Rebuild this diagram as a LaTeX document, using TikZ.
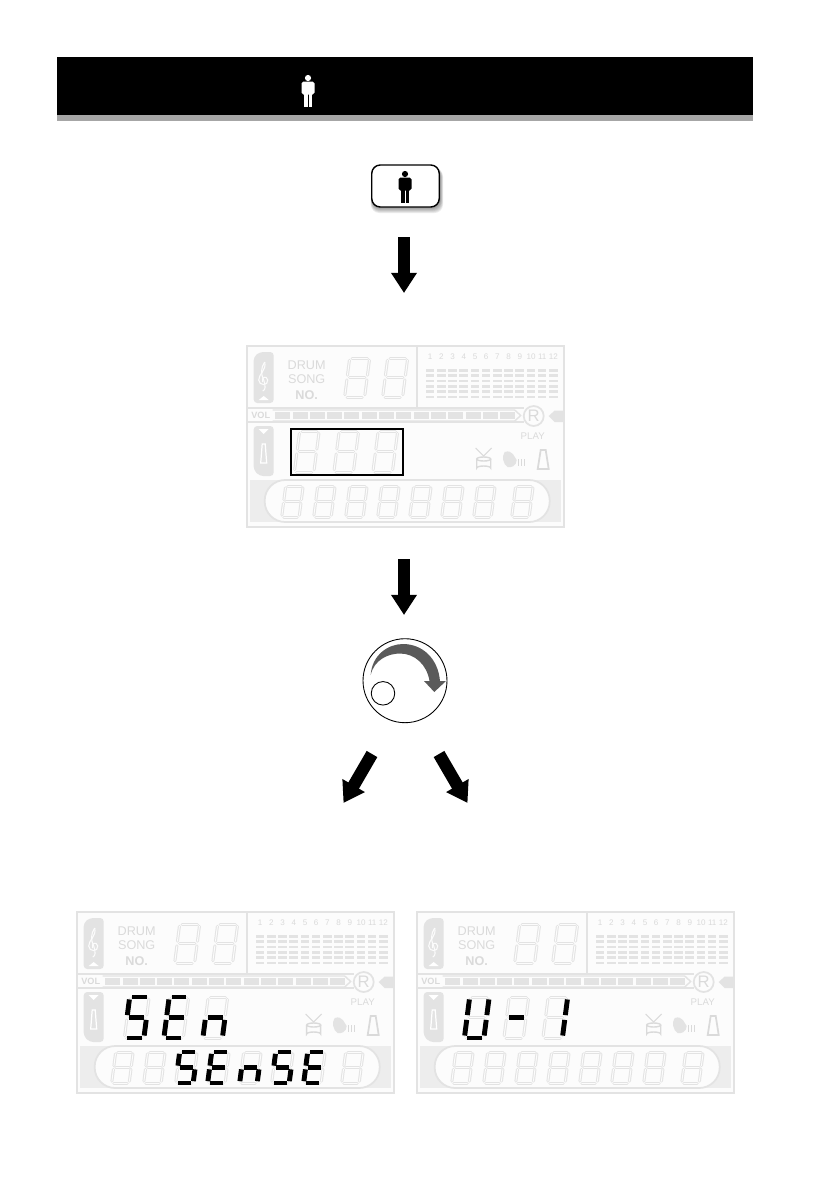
\documentclass[tikz,border=0pt]{standalone}
\usepackage{fontspec}
\setmainfont{Liberation Sans}
\usetikzlibrary{arrows.meta}

\definecolor{lcdgray}{HTML}{E3E3E3}
\definecolor{lcdpale}{HTML}{EDEDED}
\definecolor{lcdback}{HTML}{FCFCFC}
\definecolor{lcdtext}{HTML}{DADADA}
\definecolor{stripgray}{HTML}{A6A6A6}
\definecolor{knobgray}{HTML}{5A5A5A}

\tikzset{
  lcdseg/.style={draw=lcdgray,line width=1.7pt,line cap=round,
    postaction={draw=lcdback,line width=.55pt}},
  blackseg/.style={draw=black,line width=2.8pt},
  lcdline/.style={draw=lcdgray,line width=1.3pt},
  lcdlabel/.style={text=lcdtext,inner sep=0pt,font=\fontsize{7.2}{8}\selectfont},
  tinylabel/.style={lcdlabel,font=\fontsize{4.6}{5}\selectfont},
  blockarrow/.style={draw=black,line width=7pt,-{Triangle[length=11.5pt,width=14pt]}},
  keybtn/.style={draw=black,fill=white,line width=.8pt,rounded corners=1.7mm,
    minimum width=13.5mm,minimum height=8.4mm,inner sep=0pt},
  pics/person/.style={code={
    \fill[#1] (0,-13) circle (3.1);
    \fill[#1,rounded corners=1.1pt] (-6.5,3.5) -- (-6.5,-9.5) -- (6.5,-9.5) -- (6.5,3.5) -- cycle;
    \fill[#1] (-4.2,0) rectangle (-.5,16);
    \fill[#1] (.5,0) rectangle (4.2,16);
  }}
}

% segments of one digit, unit square
\def\sega{(.12,0) -- (.88,0)}
\def\segb{(1,.06) -- (1,.44)}
\def\segc{(1,.56) -- (1,.94)}
\def\segd{(.12,1) -- (.88,1)}
\def\sege{(0,.56) -- (0,.94)}
\def\segf{(0,.06) -- (0,.44)}
\def\segg{(.12,.5) -- (.88,.5)}

% x, y, width, height, segments, style
\newcommand{\segdigit}[6]{
  \begin{scope}[shift={(#1,#2)},xslant=.13,xscale=#3,yscale=#4]
    \foreach \s in {#5} {\draw[#6] \csname seg\s\endcsname;}
  \end{scope}
}

% name, x, y
\newcommand{\lcdpanel}[3]{
  \begin{scope}[shift={(#2,#3)}]
    \draw[lcdline,fill=lcdback] (0,0) rectangle (317,181);
    \draw[lcdline] (170,0) -- (170,62);
    \draw[lcdline] (0,62) -- (277,62);
    \draw[lcdline] (0,76) -- (277,76);
    % clef and metronome strips
    \fill[lcdgray,rounded corners=2pt] (7,57) -- (7,11) -- (13,6) -- (27,6) -- (27,57) -- cycle;
    \fill[lcdgray,rounded corners=2pt] (7,80) -- (27,80) -- (27,130) -- (13,130) -- (7,124) -- cycle;
    \fill[white] (12,54) -- (22,54) -- (17,50) -- cycle;
    \fill[white] (12,83) -- (22,83) -- (17,88) -- cycle;
    \draw[white,line width=.7pt] (14,117) -- (15.5,98) -- (18.5,98) -- (20,117) -- cycle;
    \draw[lcdback,line width=.6pt] (18,16) .. controls (14,22) and (14,28) .. (17,34) .. controls (19,40) and (19,44) .. (16,45);
    \draw[lcdback,line width=.6pt] (18,16) .. controls (20,24) and (12,28) .. (12,34) .. controls (12,40) and (22,40) .. (21,34) .. controls (20,29) and (14,31) .. (16,36);
    % top text
    \node[lcdlabel] (#1-drum) at (60,19) {DRUM};
    \node[lcdlabel] (#1-song) at (60,33) {SONG};
    \node[lcdlabel,font=\fontsize{7.2}{8}\bfseries] (#1-no) at (60,49) {NO.};
    \foreach \dx in {103,141} {\segdigit{\dx}{12}{20}{39}{a,b,c,d,e,f,g}{lcdseg}}
    % pattern columns
    \foreach \col [count=\n from 0] in {1,...,12} {
      \node[tinylabel] (#1-num\col) at (183.5+11.2*\n,11) {\col};
      \foreach \row in {0,...,5} {\fill[lcdgray] (179+11.2*\n,23+5.3*\row) rectangle ++(8.6,2.8);}
    }
    % volume
    \node[lcdlabel,font=\fontsize{5.2}{6}\bfseries] (#1-vol) at (14,69.5) {VOL};
    \foreach \n in {0,...,13} {\fill[lcdgray] (28.5+17.3*\n,66) rectangle ++(15,7);}
    \draw[lcdline,line width=.8pt] (26,64) -- (268,64) -- (274,69.5) -- (268,75) -- (26,75);
    \node[circle,draw=lcdgray,line width=1pt,minimum size=4mm,inner sep=0pt,text=lcdtext,
      font=\fontsize{9.5}{10}\selectfont] (#1-r) at (287,70) {R};
    \fill[lcdgray] (302,70) -- (308,64.5) -- (317,64.5) -- (317,76) -- (308,76) -- cycle;
    \node[lcdlabel,font=\fontsize{5.5}{6}\selectfont] (#1-play) at (286,90) {PLAY};
    % drum, voice, metronome
    \draw[lcdtext,line width=.6pt] (229,102) -- (237,110) -- (245,102);
    \draw[lcdtext,line width=.8pt] (230,113) -- (230,122) arc (180:360:7 and 2) -- (244,113);
    \draw[lcdtext,line width=.8pt] (237,113) ellipse (7 and 2);
    \fill[lcdgray] (258,106) .. controls (266,103) and (268,112) .. (270,114) .. controls (270,120) and (264,122) .. (261,121) .. controls (256,118) and (255,110) .. cycle;
    \foreach \dx in {272,275,278} {\draw[lcdtext,line width=.5pt] (\dx,113) -- (\dx,120);}
    \draw[lcdtext,line width=1pt] (291,123) -- (294,104) -- (299,104) -- (302,123) -- cycle;
    % middle digits
    \foreach \dx in {53,92.5,131.5} {\segdigit{\dx}{85}{19.5}{41}{a,b,c,d,e,f,g}{lcdseg}}
    % bottom band
    \fill[lcdpale] (3,134) rectangle (314,176);
    \draw[lcdline,line width=1pt,fill=lcdback,rounded corners=4.1mm] (18,134) rectangle (303,176);
    \foreach \dx in {39,71,103,135,167,199,231,269} {\segdigit{\dx}{140}{17.5}{31}{a,b,c,d,e,f,g}{lcdseg}}
  \end{scope}
}

\begin{document}
\begin{tikzpicture}[x=.02cm,y=-.02cm]
  \useasboundingbox (0,0) rectangle (839,1191);

  % header
  \fill[black] (57,57) rectangle (753,115);
  \fill[stripgray] (57,115) rectangle (753,121);
  \pic at (308,91) {person=white};

  % button
  \foreach \d in {0,...,6} {
    \fill[black,opacity=.08,rounded corners=1.7mm] (372-\d*.2,168) rectangle (440+\d*.5,207+\d);
  }
  \node[keybtn] (button) at (405.5,186) {};
  \pic at (405,187) {person=black};

  \coordinate (arrowA start) at (404,237);
  \coordinate (arrowA end) at (404,293);
  \draw[blockarrow] (arrowA start) -- (arrowA end);

  % first display
  \lcdpanel{lcdA}{246.7}{346}
  \node[draw=black,line width=.9pt,minimum width=22.5mm,minimum height=9.3mm,inner sep=0pt] (frameA) at (347,452) {};

  \coordinate (arrowB start) at (404,559);
  \coordinate (arrowB end) at (404,615);
  \draw[blockarrow] (arrowB start) -- (arrowB end);

  % knob
  \node[circle,draw=black,line width=.5pt,minimum size=16.8mm,inner sep=0pt] (knob) at (405,680.7) {};
  \node[circle,draw=black,line width=.5pt,minimum size=4.7mm,inner sep=0pt] (knobdot) at (383,693.3) {};
  \fill[knobgray] (370.7,675) .. controls (372,655) and (388,644) .. (403,644)
    .. controls (422,644) and (438,658) .. (440,681) -- (446,681) -- (434.3,692) -- (424,681) -- (429.5,681)
    .. controls (427,665) and (415,653.5) .. (400,653.5) .. controls (388,653.5) and (374,660) .. cycle;

  \coordinate (arrowL start) at (372,754);
  \coordinate (arrowL end) at (343.5,803);
  \coordinate (arrowR start) at (439,754);
  \coordinate (arrowR end) at (467.5,803);
  \draw[blockarrow] (arrowL start) -- (arrowL end);
  \draw[blockarrow] (arrowR start) -- (arrowR end);

  % lower displays
  \lcdpanel{lcdB}{76.7}{912}
  \lcdpanel{lcdC}{416.7}{912}
  \begin{scope}[shift={(76.7,912)}]
    \segdigit{53}{85}{19.5}{41}{a,f,g,c,d}{blackseg}
    \segdigit{92.5}{85}{19.5}{41}{a,f,g,e,d}{blackseg}
    \segdigit{131.5}{85}{19.5}{41}{g,c,e}{blackseg}
    \segdigit{103}{140}{17.5}{31}{a,f,g,c,d}{blackseg}
    \segdigit{135}{140}{17.5}{31}{a,f,g,e,d}{blackseg}
    \segdigit{167}{140}{17.5}{31}{g,c,e}{blackseg}
    \segdigit{199}{140}{17.5}{31}{a,f,g,c,d}{blackseg}
    \segdigit{231}{140}{17.5}{31}{a,f,g,e,d}{blackseg}
  \end{scope}
  \begin{scope}[shift={(416.7,912)}]
    \segdigit{53}{85}{19.5}{41}{f,b,e,c,d}{blackseg}
    \segdigit{92.5}{85}{19.5}{41}{g}{blackseg}
    \segdigit{131.5}{85}{19.5}{41}{b,c}{blackseg}
  \end{scope}
\end{tikzpicture}
\end{document}
